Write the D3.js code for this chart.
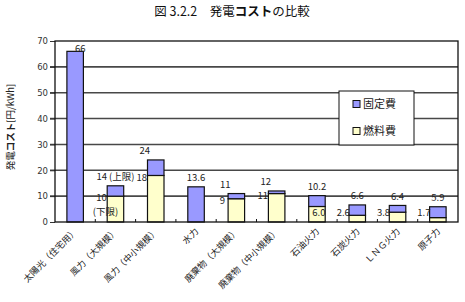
<!DOCTYPE html>
<html>
<head>
<meta charset="utf-8">
<script src="https://cdn.jsdelivr.net/npm/d3@7"></script>
<style>
  body { margin: 0; background: #fff; }
  svg { font-family: "Noto Sans CJK JP", "DejaVu Sans", sans-serif; }
</style>
</head>
<body>
<svg id="chart" width="465" height="302"></svg>
<script>
// categories and values (円/kWh)
var categories = ["太陽光（住宅用）", "風力（大規模）", "風力（中小規模）", "水力", "廃棄物（大規模）",
                  "廃棄物（中小規模）", "石油火力", "石炭火力", "ＬＮＧ火力", "原子力"];
var totalCost = [66, 14, 24, 13.6, 11, 12, 10.2, 6.6, 6.4, 5.9];
var fuelCost  = [0, 10, 18, 0, 9, 11, 6.0, 2.6, 3.8, 1.7];
var totalLabels = ["66", "14 (上限)", "24", "13.6", "11", "12", "10.2", "6.6", "6.4", "5.9"];
var fuelLabels  = ["", "10", "18", "", "9", "11", "6.0", "2.6", "3.8", "1.7"];
var yTicks = [0, 10, 20, 30, 40, 50, 60, 70];

var svg = d3.select("#chart");
var pLeft = 55, pRight = 458, pTop = 41, pBottom = 222;

var x = d3.scaleBand().domain(d3.range(categories.length)).range([pLeft, pRight]);
var y = d3.scaleLinear().domain([0, 70]).range([pBottom, pTop]);
var bw = 16.5;

//Title
var title = svg.append("text").attr("x", 232).attr("y", 16)
  .attr("text-anchor", "middle").style("font-size", "12.5px").attr("fill", "#111");
title.append("tspan").text("図 3.2.2　発電");
title.append("tspan").style("font-weight", "bold").text("コスト");
title.append("tspan").text("の比較");

//Gridlines
svg.selectAll(".grid").data(yTicks.slice(1, -1)).enter().append("line")
  .attr("x1", pLeft - 5).attr("x2", pRight)
  .attr("y1", function(d){ return y(d); }).attr("y2", function(d){ return y(d); })
  .attr("stroke", "#484848").attr("stroke-width", 1.6);

//y axis
var yAxis = svg.append("g").attr("transform", "translate(" + pLeft + ",0)")
  .call(d3.axisLeft(y).tickValues(yTicks).tickSize(5).tickPadding(2));
yAxis.select(".domain").remove();
yAxis.selectAll("line").attr("stroke", "#333");
yAxis.selectAll("text").style("font-size", "8.5px").style("font-family", "DejaVu Sans").attr("fill", "#333");

//Bars: fixed (blue) above fuel (yellow)
var g = svg.append("g");
categories.forEach(function(c, i){
  var cx = x(i) + x.bandwidth() / 2;
  if (fuelCost[i] > 0) {
    g.append("rect").attr("x", cx - bw / 2).attr("width", bw)
      .attr("y", y(fuelCost[i])).attr("height", y(0) - y(fuelCost[i]))
      .attr("fill", "#FFFFCC").attr("stroke", "#111").attr("stroke-width", 1.2);
  }
  g.append("rect").attr("x", cx - bw / 2).attr("width", bw)
    .attr("y", y(totalCost[i])).attr("height", y(fuelCost[i]) - y(totalCost[i]))
    .attr("fill", "#9999FF").attr("stroke", "#111").attr("stroke-width", 1.2);
});

//Plot frame
svg.append("rect").attr("x", pLeft).attr("y", pTop).attr("width", pRight - pLeft).attr("height", pBottom - pTop)
  .attr("fill", "none").attr("stroke", "#111").attr("stroke-width", 1.3);

//x ticks (inside, at band boundaries)
svg.selectAll(".xtick").data(d3.range(1, categories.length)).enter().append("line")
  .attr("x1", function(d){ return x(d); }).attr("x2", function(d){ return x(d); })
  .attr("y1", pBottom).attr("y2", pBottom - 3).attr("stroke", "#111");

//Value labels
var lab = svg.append("g").style("font-size", "9.5px").attr("fill", "#222");
categories.forEach(function(c, i){
  var cx = x(i) + x.bandwidth() / 2;
  var ty = Math.max(y(totalCost[i]) - 9, pTop + 8);
  var dx = (i == 2 || i == 4 || i == 5) ? -11 : (i == 0 ? 5 : 0);
  lab.append("text").attr("x", cx + dx).attr("y", ty).attr("dy", "0.35em")
    .attr("text-anchor", "middle").text(totalLabels[i]);
  if (fuelLabels[i]) {
    var inside = (i == 6);
    var fx = inside ? cx + 2 : cx - 14;
    var fy = inside ? 213 : Math.min(y(fuelCost[i]) + 2, 213);
    lab.append("text").attr("x", fx).attr("y", fy).attr("dy", "0.35em")
      .attr("text-anchor", "middle").text(fuelLabels[i]);
  }
});
lab.append("text").attr("x", x(1) + x.bandwidth() / 2 - 10).attr("y", 212).attr("dy", "0.35em")
  .attr("text-anchor", "middle").text("(下限)");

//Category labels, rotated
svg.selectAll(".xlab").data(categories).enter().append("text")
  .attr("transform", function(d, i){
    return "translate(" + (x(i) + x.bandwidth() / 2 + 3) + "," + (pBottom + 10) + ") rotate(-45)";
  })
  .attr("text-anchor", "end").style("font-size", "9px").attr("fill", "#222")
  .text(function(d){ return d; });

//y axis title
var yt = svg.append("text").attr("transform", "translate(14,127) rotate(-90)")
  .attr("text-anchor", "middle").style("font-size", "9.5px").attr("fill", "#222");
yt.append("tspan").text("発電");
yt.append("tspan").style("font-weight", "bold").text("コスト");
yt.append("tspan").text("[円/kWh]");

//Legend
var leg = svg.append("g");
leg.append("rect").attr("x", 339).attr("y", 91).attr("width", 75).attr("height", 54)
  .attr("fill", "#fff").attr("stroke", "#111").attr("stroke-width", 1);
var legItems = [["固定費", "#9999FF"], ["燃料費", "#FFFFCC"]];
legItems.forEach(function(d, i){
  var ly = 104 + i * 27;
  leg.append("rect").attr("x", 353).attr("y", ly - 3.5).attr("width", 7).attr("height", 7)
    .attr("fill", d[1]).attr("stroke", "#111").attr("stroke-width", 1);
  leg.append("text").attr("x", 363).attr("y", ly).attr("dy", "0.35em")
    .style("font-size", "11px").attr("fill", "#222").text(d[0]);
});
</script>
</body>
</html>
